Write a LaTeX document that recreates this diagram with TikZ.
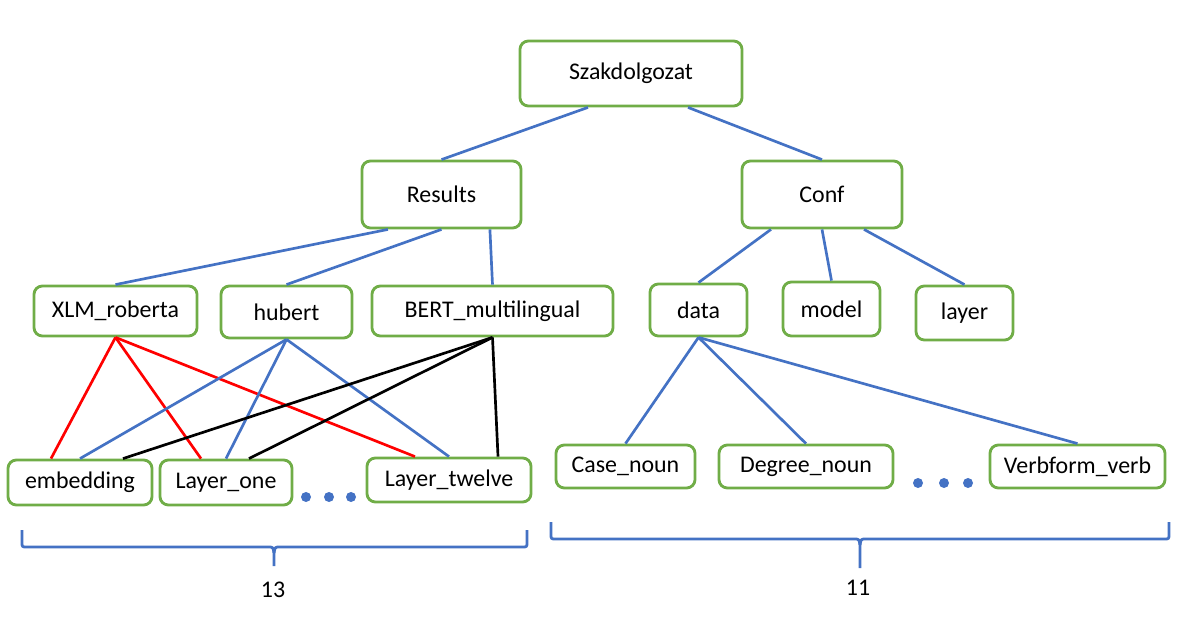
\documentclass[tikz,border=0pt]{standalone}
\usepackage{fontspec}
\setmainfont{Carlito}
\definecolor{boxgreen}{RGB}{112,173,71}
\definecolor{linkblue}{RGB}{68,114,196}
\tikzset{
	box/.style={draw=boxgreen, line width=2pt, rounded corners=6pt, fill=white, inner sep=0pt, font=\fontsize{17}{20}\selectfont},
	link/.style={draw=linkblue, line width=1.9pt},
	xlmlink/.style={draw=red, line width=1.9pt},
	bertlink/.style={draw=black, line width=1.9pt}
}
\begin{document}
\begin{tikzpicture}[x=0.025cm, y=-0.025cm, line join=round]
				\useasboundingbox (0,0) rectangle (1204,622);
				\node[box, minimum width=5.55cm, minimum height=1.625cm] (szak) at (631,73.5) {Szakdolgozat};
				\node[box, minimum width=3.975cm, minimum height=1.675cm] (results) at (441.5,194.5) {Results};
				\node[box, minimum width=4cm, minimum height=1.675cm] (conf) at (822,194.5) {Conf};
				\node[box, minimum width=4.075cm, minimum height=1.25cm] (xlm) at (115.5,311) {XLM\_roberta};
				\node[box, minimum width=3.275cm, minimum height=1.3cm] (hubert) at (286.5,312) {hubert};
				\node[box, minimum width=6.025cm, minimum height=1.25cm] (bert) at (492.5,311) {BERT\_multilingual};
				\node[box, minimum width=2.425cm, minimum height=1.3cm] (data) at (698.5,310) {data};
				\node[box, minimum width=2.425cm, minimum height=1.35cm] (model) at (831.5,309) {model};
				\node[box, minimum width=2.425cm, minimum height=1.35cm] (layer) at (964.5,313) {layer};
				\node[box, minimum width=3.6cm, minimum height=1.125cm] (emb) at (80,482.5) {embedding};
				\node[box, minimum width=3.3cm, minimum height=1.125cm] (lone) at (226,482.5) {Layer\_one};
				\node[box, minimum width=4.1cm, minimum height=1.1cm] (ltwelve) at (449,480) {Layer\_twelve};
				\node[box, minimum width=3.475cm, minimum height=1.075cm] (case) at (625.5,466.5) {Case\_noun};
				\node[box, minimum width=4.35cm, minimum height=1.075cm] (degree) at (806,466.5) {Degree\_noun};
				\node[box, minimum width=4.375cm, minimum height=1.075cm] (verbform) at (1077.5,466.5) {Verbform\_verb};
				
				\draw[link] ([xshift=-1.075cm]szak.south)--(results.north);
				\draw[link] ([xshift=1.425cm]szak.south)--(conf.north);
				\draw[link] ([xshift=-1.34cm]results.south)--(xlm.north);
				\draw[link] (results.south)--(hubert.north);
				\draw[link] ([xshift=1.21cm]results.south)--(bert.north);
				\draw[link] ([xshift=-1.275cm]conf.south)--(data.north);
				\draw[link] (conf.south)--(model.north);
				\draw[link] ([xshift=1.05cm]conf.south)--(layer.north);
				\draw[link] (data.south)--(case.north);
				\draw[link] (data.south)--(degree.north);
				\draw[link] (data.south)--(verbform.north);
				
				\draw[xlmlink] (xlm.south)--([xshift=-0.725cm]emb.north);
				\draw[xlmlink] (xlm.south)--([xshift=-0.625cm]lone.north);
				\draw[xlmlink] (xlm.south)--([xshift=-0.85cm]ltwelve.north);
				\draw[link] (hubert.south)--(emb.north);
				\draw[link] (hubert.south)--(lone.north);
				\draw[link] (hubert.south)--(ltwelve.north);
				\draw[bertlink] (bert.south)--([xshift=1.075cm]emb.north);
				\draw[bertlink] (bert.south)--([xshift=0.575cm]lone.north);
				\draw[bertlink] (bert.south)--([xshift=1.225cm]ltwelve.north);
				
				\foreach \x in {306,329,351} \fill[linkblue] (\x,497) circle (0.125cm);
				\foreach \x in {918,944,968} \fill[linkblue] (\x,483) circle (0.125cm);
				
				\draw[linkblue, line width=2pt] (22,530)--(22,542) .. controls (22,547) .. (27,547)--(268,547) .. controls (273,547) .. (274,553)--(274,566);
				\draw[linkblue, line width=2pt] (527,530)--(527,542) .. controls (527,547) .. (522,547)--(280,547) .. controls (275,547) .. (274,553);
				\draw[linkblue, line width=2pt] (551,522)--(551,534) .. controls (551,539) .. (556,539)--(854,539) .. controls (859,539) .. (860,545)--(860,568);
				\draw[linkblue, line width=2pt] (1169,522)--(1169,534) .. controls (1169,539) .. (1164,539)--(866,539) .. controls (861,539) .. (860,545);
				\node[font=\fontsize{17}{20}\selectfont] (thirteen) at (273,590) {13};
				\node[font=\fontsize{17}{20}\selectfont] (eleven) at (858,588) {11};
			\end{tikzpicture}
\end{document}
